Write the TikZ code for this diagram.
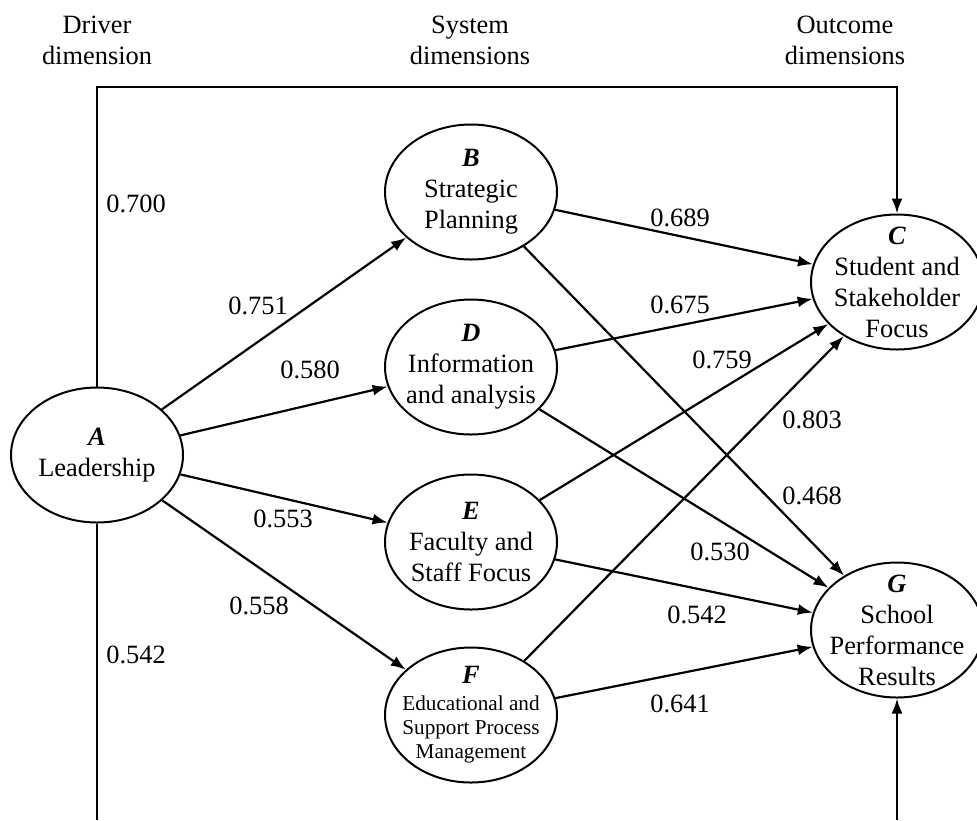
\documentclass[tikz,border=0pt]{standalone}
\usepackage{fontspec}
\setmainfont{Liberation Serif}
\usetikzlibrary{arrows.meta,shapes.geometric}

\newcommand{\dimletter}[1]{\textbf{\textit{#1}}}

\begin{document}
\begin{tikzpicture}[x=0.5pt,y=-0.5pt,
  every node/.style={font=\fontsize{13.2}{15.5}\selectfont},
  stage/.style={draw, line width=1pt, ellipse, minimum width=86pt, minimum height=67.5pt, inner sep=0pt},
  stagetext/.style={align=center, inner sep=0pt},
  smalltext/.style={align=center, inner sep=0pt, font=\fontsize{10.6}{12}\selectfont},
  coef/.style={inner sep=0pt},
  header/.style={align=center, inner sep=0pt},
  arr/.style={line width=1.1pt, -{Latex[length=7.5pt,width=5.5pt]}},
  plain/.style={line width=1.1pt}
]
\useasboundingbox (0,0) rectangle (977,820);

% column headings
\node[header] (hdriver) at (97,40) {Driver\\dimension};
\node[header] (hsystem) at (470,40) {System\\dimensions};
\node[header] (houtcome) at (845,40) {Outcome\\dimensions};

% dimension ellipses
\node[stage] (A) at (97,455) {};
\node[stage] (B) at (471,192) {};
\node[stage] (D) at (471,367) {};
\node[stage] (E) at (471,542) {};
\node[stage] (F) at (471,715) {};
\node[stage] (C) at (897,282) {};
\node[stage] (G) at (897,630) {};

\node[stagetext] (Atext) at (A) {\dimletter{A}\\Leadership};
\node[stagetext] (Btext) at (B) {\dimletter{B}\\Strategic\\Planning};
\node[stagetext] (Dtext) at (D) {\dimletter{D}\\Information\\and analysis};
\node[stagetext] (Etext) at (E) {\dimletter{E}\\Faculty and\\Staff Focus};
\node[smalltext] (Ftext) at (F) {{\fontsize{13.2}{15.5}\selectfont\dimletter{F}}\\[1.5pt]Educational and\\Support Process\\Management};
\node[stagetext] (Ctext) at (C) {\dimletter{C}\\Student and\\Stakeholder\\Focus};
\node[stagetext] (Gtext) at (G) {\dimletter{G}\\School\\Performance\\Results};

% direct paths from leadership to the outcomes
\coordinate (topleft) at (97,87);
\coordinate (botleft) at (97,820);
\coordinate (botright) at (897,820);
\draw[arr] (A.north) -- (topleft) -| (C.north);
\draw[plain] (A.south) -- (botleft);
\draw[arr] (botright) -- (G.south);

% driver to system dimensions
\draw[arr] (A) -- (B);
\draw[arr] (A) -- (D);
\draw[arr] (A) -- (E);
\draw[arr] (A) -- (F);

% system dimensions to outcomes
\draw[arr] (B) -- (C);
\draw[arr] (D) -- (C);
\draw[arr] (E) -- (C);
\draw[arr] (F) -- (C);
\draw[arr] (B) -- (G);
\draw[arr] (D) -- (G);
\draw[arr] (E) -- (G);
\draw[arr] (F) -- (G);

% path coefficients
\node[coef] (c700) at (136,204) {0.700};
\node[coef] (c542a) at (136,655) {0.542};
\node[coef] (c751) at (258,306) {0.751};
\node[coef] (c580) at (310,370) {0.580};
\node[coef] (c553) at (283,519) {0.553};
\node[coef] (c558) at (259,606) {0.558};
\node[coef] (c689) at (680,218) {0.689};
\node[coef] (c675) at (680,305) {0.675};
\node[coef] (c759) at (722,360) {0.759};
\node[coef] (c803) at (812,420) {0.803};
\node[coef] (c468) at (812,496) {0.468};
\node[coef] (c530) at (720,552) {0.530};
\node[coef] (c542b) at (697,615) {0.542};
\node[coef] (c641) at (680,704) {0.641};
\end{tikzpicture}
\end{document}
